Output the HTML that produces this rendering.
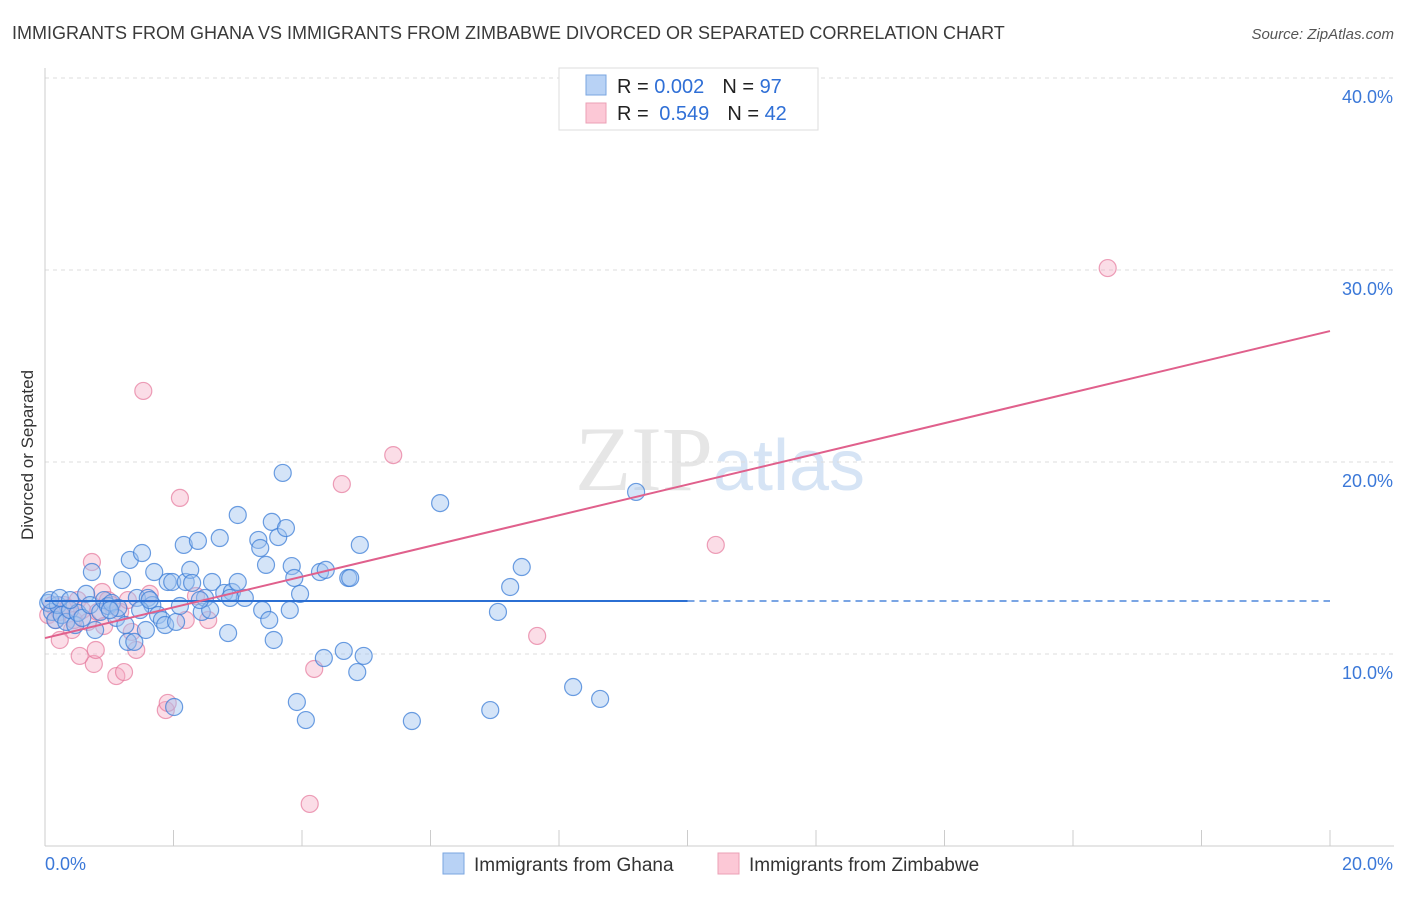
<!DOCTYPE html>
<html><head><meta charset="utf-8"><style>
body{margin:0;background:#fff;font-family:"Liberation Sans",sans-serif;}
</style></head><body>
<svg id="chart" width="1406" height="892" xmlns="http://www.w3.org/2000/svg" font-family="Liberation Sans, sans-serif">
<text x="12" y="39" font-size="18" fill="#3a3a3a">IMMIGRANTS FROM GHANA VS IMMIGRANTS FROM ZIMBABWE DIVORCED OR SEPARATED CORRELATION CHART</text>
<text x="1394" y="39" font-size="15" fill="#555" text-anchor="end" font-style="italic">Source: ZipAtlas.com</text>
<text x="720" y="490" font-size="92" text-anchor="middle" fill="#e6e6e6" font-family="Liberation Serif, serif">ZIP<tspan fill="#d6e4f5" font-family="Liberation Sans, sans-serif" font-size="72">atlas</tspan></text>
<text transform="translate(33,455) rotate(-90)" font-size="17" fill="#333" text-anchor="middle">Divorced or Separated</text>
<g id="grid"></g>
<g id="marks"></g>
<g>
<rect x="559" y="68" width="259" height="62" fill="#fff" stroke="#ddd"/>
<rect x="586" y="75" width="20" height="20" fill="#b8d2f5" stroke="#7aa6e0"/>
<rect x="586" y="103" width="20" height="20" fill="#fcc8d6" stroke="#eba0b6"/>
<text x="617" y="93" font-size="20" fill="#222">R = <tspan fill="#2f6fd6">0.002</tspan><tspan dx="18">N = </tspan><tspan fill="#2f6fd6">97</tspan></text>
<text x="617" y="120" font-size="20" fill="#222">R = <tspan fill="#2f6fd6" dx="5">0.549</tspan><tspan dx="18">N = </tspan><tspan fill="#2f6fd6">42</tspan></text>
</g>
<g>
<rect x="443" y="853" width="21" height="21" fill="#b8d2f5" stroke="#7aa6e0"/>
<text x="474" y="871" font-size="19" fill="#333">Immigrants from Ghana</text>
<rect x="718" y="853" width="21" height="21" fill="#fcc8d6" stroke="#eba0b6"/>
<text x="749" y="871" font-size="19" fill="#333">Immigrants from Zimbabwe</text>
</g>
</svg>
<script>
const xTicks=[0,20];
const yTicks=[10,20,30,40];
const ghanaX=[0.05,0.11,0.16,0.2,0.26,0.33,0.39,0.47,0.51,0.58,0.64,0.7,0.73,0.78,0.86,0.92,0.98,1.04,1.11,1.14,1.2,1.25,1.29,1.32,1.39,1.43,1.51,1.57,1.6,1.67,1.7,1.76,1.82,1.87,1.91,1.98,2.04,2.1,2.16,2.19,2.26,2.29,2.38,2.44,2.49,2.57,2.6,2.72,2.79,2.85,2.91,3.0,3.0,3.11,3.32,3.35,3.38,3.44,3.49,3.53,3.56,3.63,3.7,3.75,3.81,3.84,3.88,3.97,3.92,4.06,4.28,4.34,4.37,4.65,4.72,4.75,4.86,4.9,4.96,5.71,6.15,6.93,7.05,7.24,7.42,8.22,8.64,9.2,2.01,0.08,0.23,0.39,1.01,1.48,1.63,2.41,2.88];
const ghanaY=[12.66,12.19,11.77,12.55,12.03,11.67,12.29,11.51,12.14,11.88,13.13,12.55,14.27,11.25,12.19,12.81,12.5,12.66,11.88,12.4,13.85,11.51,10.63,14.9,10.63,12.92,15.26,11.25,12.92,12.55,14.27,12.03,11.77,11.51,13.75,13.75,11.67,12.5,15.68,13.75,14.38,13.7,15.89,12.19,12.92,12.29,13.75,16.04,13.18,11.09,13.23,17.24,13.75,12.92,15.94,15.52,12.29,14.64,11.77,16.88,10.73,16.09,19.43,16.56,12.29,14.58,13.96,13.13,7.5,6.56,14.27,9.79,14.38,10.16,13.96,13.96,9.06,15.68,9.9,6.51,17.86,7.08,12.19,13.49,14.53,8.28,7.66,18.44,7.24,12.81,12.92,12.81,12.29,12.29,12.81,12.81,12.92];
const zimX=[0.05,0.11,0.17,0.23,0.3,0.36,0.42,0.45,0.51,0.58,0.67,0.73,0.76,0.79,0.82,0.89,0.92,0.98,1.04,1.11,1.17,1.23,1.29,1.35,1.42,1.53,1.63,1.88,1.91,2.1,2.19,2.35,2.54,4.12,4.19,4.62,5.42,7.66,10.44,16.54,0.23,0.54];
const zimY=[12.03,12.55,11.77,12.19,12.55,12.4,11.25,11.77,12.81,12.29,11.67,14.79,9.48,10.21,12.19,13.23,11.46,12.81,12.55,8.85,12.19,9.06,12.81,11.15,10.21,23.7,13.13,7.08,7.45,18.13,11.77,13.02,11.77,2.19,9.22,18.85,20.36,10.94,15.68,30.1,10.73,9.9];
const ghanaFit=[12.76,12.76];
const zimFit=[10.83,26.82];
const NS='http://www.w3.org/2000/svg';
const X=v=>45+v*64.25, Y=v=>846-v*19.2;
function mk(tag,attrs,parent){const e=document.createElementNS(NS,tag);for(const k in attrs)e.setAttribute(k,attrs[k]);parent.appendChild(e);return e;}
const grid=document.getElementById('grid'), marks=document.getElementById('marks');
yTicks.forEach(t=>{
 const l=mk('line',{x1:45,x2:1394,y1:Y(t),y2:Y(t),stroke:'#ddd','stroke-dasharray':'4,4'},grid);
 
 
 const tx=mk('text',{x:1393,y:Y(t)+25,'font-size':18,fill:'#3b78d8','text-anchor':'end'},grid);
 tx.textContent=t.toFixed(1)+'%';
 
 
});
const ax=mk('line',{x1:45,x2:1394,y1:846,y2:846,stroke:'#ccc'},grid);


const ay=mk('line',{x1:45,x2:45,y1:68,y2:846,stroke:'#ccc'},grid);


for(let i=1;i<=10;i++){const t=mk('line',{x1:X(i*2),x2:X(i*2),y1:830,y2:846,stroke:'#ccc'},grid);
 
 }
xTicks.forEach((t,i)=>{const tx=mk('text',{x:i?1393:45,y:870,'font-size':18,fill:'#3b78d8','text-anchor':i?'end':'start'},grid);
 tx.textContent=t.toFixed(1)+'%';
 
 });
zimX.forEach((x,i)=>{const c=mk('circle',{cx:X(x),cy:Y(zimY[i]),r:8.5,fill:'rgba(245,170,195,0.4)',stroke:'rgba(230,120,155,0.7)','stroke-width':1.2},marks);
 
 });
ghanaX.forEach((x,i)=>{const c=mk('circle',{cx:X(x),cy:Y(ghanaY[i]),r:8.5,fill:'rgba(160,195,240,0.45)',stroke:'rgba(60,125,215,0.75)','stroke-width':1.2},marks);
 
 });
const gSolid=mk('line',{x1:X(0),x2:X(10),y1:Y(ghanaFit[0]),y2:Y(ghanaFit[0]+(ghanaFit[1]-ghanaFit[0])/2),stroke:'#2b6fd3','stroke-width':2},marks);


const gDash=mk('line',{x1:X(10),x2:X(20),y1:Y(ghanaFit[0]+(ghanaFit[1]-ghanaFit[0])/2),y2:Y(ghanaFit[1]),stroke:'#2b6fd3','stroke-width':1.3,'stroke-dasharray':'7,5'},marks);


const zl=mk('line',{x1:X(0),x2:X(20),y1:Y(zimFit[0]),y2:Y(zimFit[1]),stroke:'#e0608c','stroke-width':2},marks);


</script>
</body></html>
